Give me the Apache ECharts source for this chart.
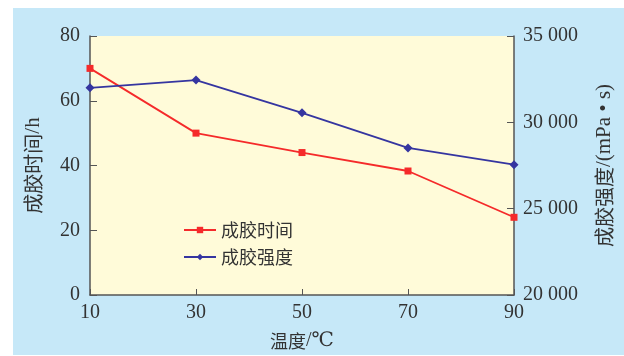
<!DOCTYPE html>
<html><head><meta charset="utf-8">
<script src="https://cdn.jsdelivr.net/npm/echarts@6/dist/echarts.min.js"></script>
<style>html,body{margin:0;padding:0;background:#fff}#c{width:624px;height:356px}</style>
</head><body><div id="c"></div>
<script>
var temps = ['10','30','50','70','90'];
var gelTime = [70, 50, 44, 38.3, 24];
var gelStrength = [32000, 32450, 30550, 28520, 27550];
var leftTicks = [0, 20, 40, 60, 80];
var rightTicks = [20000, 25000, 30000, 35000];

var chart = echarts.init(document.getElementById('c'), null, {renderer:'canvas'});
var serif = '"Liberation Serif","DejaVu Serif",serif';
var cjk = '"Noto Sans CJK SC","Liberation Serif",sans-serif';
var axisLine = {show:true, lineStyle:{color:'#555', width:1.5}};
function fmt(v){ var s=String(v); return s.length>3 ? s.slice(0,s.length-3)+' '+s.slice(-3) : s; }
chart.setOption({
  animation:false,
  graphic:[{type:'rect', shape:{x:13,y:8,width:611,height:347}, style:{fill:'#C6E8F8'}, z:-10}],
  grid:{left:90,right:110,top:36,bottom:60,show:true,backgroundColor:'#FFFBD9',borderWidth:0},
  legend:{
    orient:'vertical', left:178, top:216, itemWidth:32, itemHeight:8, itemGap:9,
    textStyle:{fontFamily:cjk, fontSize:18, color:'#333'},
    data:['成胶时间','成胶强度']
  },
  xAxis:{
    type:'category', data:temps, boundaryGap:false,
    name:'{c|温度}{s|/℃}', nameLocation:'middle', nameGap:36,
    nameTextStyle:{fontFamily:cjk, fontSize:18, color:'#333',
      rich:{c:{fontFamily:cjk,fontSize:18,color:'#333'}, s:{fontFamily:serif,fontSize:20,color:'#333'}}},
    axisLine:axisLine,
    axisTick:{show:true, inside:true, length:6, lineStyle:{color:'#555'}},
    axisLabel:{fontFamily:serif, fontSize:20, color:'#333', margin:8},
    splitLine:{show:false}
  },
  yAxis:[{
    type:'value', min:0, max:80, interval:20,
    name:'{c|成胶时间}{s|/h}', nameLocation:'middle', nameRotate:90, nameGap:46,
    nameTextStyle:{fontFamily:cjk, fontSize:20, color:'#333',
      rich:{c:{fontFamily:cjk,fontSize:20,color:'#333'}, s:{fontFamily:serif,fontSize:21,color:'#333'}}},
    axisLine:axisLine,
    axisTick:{show:true, inside:true, length:7, lineStyle:{color:'#555'}},
    axisLabel:{fontFamily:serif, fontSize:20, color:'#333', margin:10},
    splitLine:{show:false}
  },{
    type:'value', min:20000, max:35000, interval:5000, position:'right',
    name:'{c|成胶强度}{s|/(mPa • s)}', nameLocation:'middle', nameRotate:90, nameGap:80,
    nameTextStyle:{fontFamily:cjk, fontSize:19, color:'#333',
      rich:{c:{fontFamily:cjk,fontSize:20,color:'#333'}, s:{fontFamily:serif,fontSize:21,color:'#333'}}},
    axisLine:axisLine,
    axisTick:{show:true, inside:true, length:7, lineStyle:{color:'#555'}},
    axisLabel:{fontFamily:serif, fontSize:20, color:'#333', margin:9, formatter:fmt},
    splitLine:{show:false}
  }],
  series:[{
    name:'成胶时间', type:'line', data:gelTime, yAxisIndex:0,
    symbol:'rect', symbolSize:7, color:'#F52A2A',
    lineStyle:{width:1.8, color:'#F52A2A'}, itemStyle:{color:'#F52A2A'}
  },{
    name:'成胶强度', type:'line', data:gelStrength, yAxisIndex:1,
    symbol:'diamond', symbolSize:9, color:'#3535A0',
    lineStyle:{width:1.8, color:'#3535A0'}, itemStyle:{color:'#3535A0'}
  }]
});
</script></body></html>
